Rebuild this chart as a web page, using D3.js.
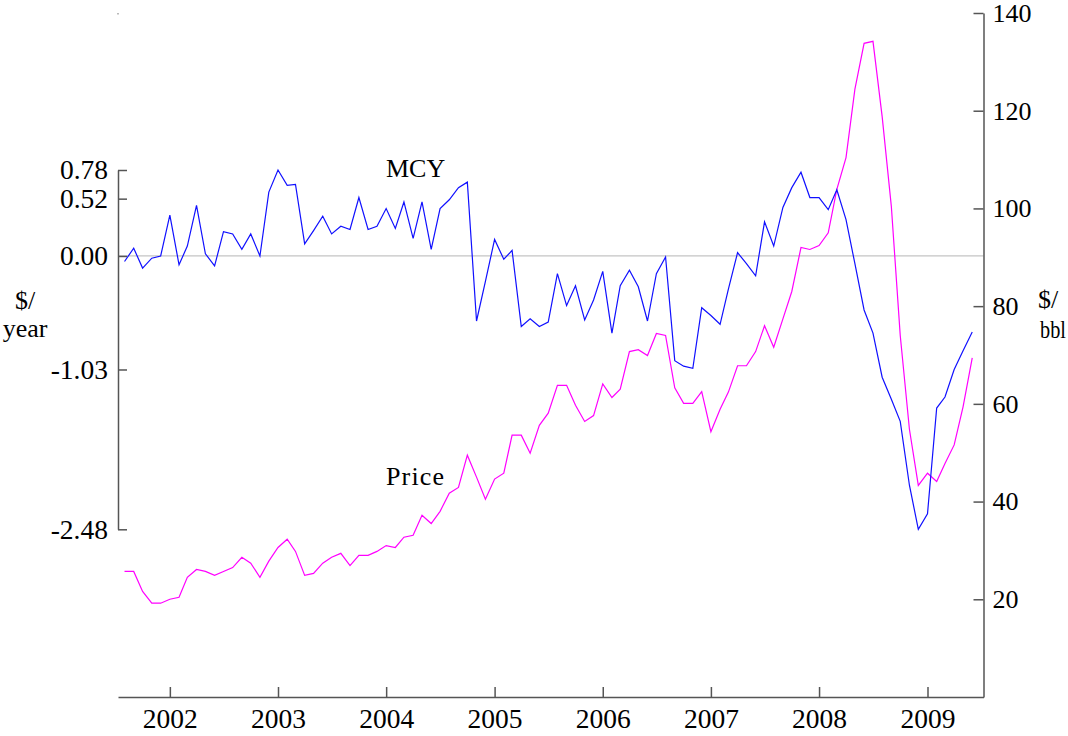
<!DOCTYPE html>
<html>
<head>
<meta charset="utf-8">
<script src="https://cdn.jsdelivr.net/npm/d3@7"></script>
<style>
  body { margin: 0; background: #fff; }
  svg text { font-family: "Liberation Serif", "Times New Roman", serif; fill: #000; }
  .axis path, .axis line { stroke: #555; stroke-width: 1.5; }
  .axis text { font-size: 27.5px; }
  .axis.right-axis text { font-size: 26px; }
  .series-label, .unit-label { font-size: 26px; }
</style>
</head>
<body>
<div id="chart"></div>
<script>
// Monthly observations, first one is August 2001
const firstMonth = new Date(2001, 7, 1);

// MCY ($/year), left axis
const mcyValues = [
  -0.05, 0.07, -0.11, -0.02, 0.00, 0.37, -0.08, 0.09, 0.46, 0.02, -0.09, 0.22, 0.20,
  0.06, 0.20, 0.00, 0.58, 0.78, 0.64, 0.65, 0.11, 0.23, 0.36, 0.20, 0.27,
  0.24, 0.53, 0.24, 0.27, 0.43, 0.25, 0.49, 0.16, 0.49, 0.06, 0.43, 0.51,
  0.62, 0.67, -0.59, -0.23, 0.15, -0.03, 0.05, -0.64, -0.57, -0.64, -0.60, -0.16,
  -0.45, -0.27, -0.58, -0.40, -0.14, -0.70, -0.27, -0.13, -0.28, -0.59, -0.16, -0.01,
  -0.95, -1.00, -1.02, -0.47, -0.54, -0.62, -0.30, 0.03, -0.07, -0.18, 0.31, 0.09,
  0.44, 0.62, 0.76, 0.53, 0.53, 0.42, 0.60, 0.33, -0.07, -0.49, -0.70, -1.10,
  -1.30, -1.50, -2.08, -2.48, -2.34, -1.38, -1.28, -1.03, -0.86, -0.69
];

// Oil price ($/bbl), right axis
const priceValues = [
  25.7, 25.7, 21.6, 19.2, 19.2, 20.0, 20.4, 24.5, 26.1, 25.7, 24.9, 25.7, 26.5,
  28.6, 27.4, 24.5, 27.8, 30.6, 32.3, 29.8, 24.9, 25.3, 27.4, 28.6, 29.4,
  26.9, 29.0, 29.0, 29.8, 31.0, 30.6, 32.7, 33.1, 37.2, 35.5, 38.0, 41.7,
  42.9, 49.5, 45.0, 40.5, 44.6, 45.8, 53.6, 53.6, 49.9, 55.6, 58.1, 63.8,
  63.8, 59.7, 56.4, 57.6, 64.1, 61.3, 63.0, 70.7, 71.1, 69.9, 74.4, 74.0,
  63.3, 60.1, 60.1, 62.5, 54.3, 58.9, 62.4, 67.8, 67.8, 70.7, 76.0, 71.6,
  77.4, 83.0, 92.0, 91.6, 92.4, 95.0, 103.9, 110.4, 124.4, 133.8, 134.2, 118.8,
  100.4, 74.0, 54.8, 43.3, 45.8, 44.1, 47.8, 51.6, 59.4, 69.4
];

// Tick labels
const leftTicks = [0.78, 0.52, 0.00, -1.03, -2.48];
const rightTicks = [20, 40, 60, 80, 100, 120, 140];
const yearTicks = [2002, 2003, 2004, 2005, 2006, 2007, 2008, 2009];

class DualAxisChart {

  constructor(_config, _data) {
    this.config = {
      parentElement: _config.parentElement,
      containerWidth: _config.containerWidth || 1068,
      containerHeight: _config.containerHeight || 736
    }
    this.data = _data;
    this.initVis();
  }

  initVis() {
    let vis = this;

    vis.svg = d3.select(vis.config.parentElement)
      .append('svg')
      .attr('width', vis.config.containerWidth)
      .attr('height', vis.config.containerHeight);

    // plot area edges (in page pixels)
    vis.left = 118;
    vis.right = 983.5;
    vis.top = 13;
    vis.bottom = 697;

    vis.xScale = d3.scaleTime()
      .domain([new Date(2001, 6, 10), new Date(2009, 6, 9)])
      .range([vis.left, vis.right]);

    // left axis only spans its extreme ticks
    vis.yLeft = d3.scaleLinear()
      .domain([-2.48, 0.78])
      .range([529.3, 170]);

    vis.yRight = d3.scaleLinear()
      .domain([0, 140])
      .range([vis.bottom, vis.top]);

    vis.xAxis = d3.axisBottom(vis.xScale)
      .tickValues(yearTicks.map(y => new Date(y, 0, 1)))
      .tickFormat(d3.timeFormat('%Y'))
      .tickSizeInner(-10)
      .tickSizeOuter(0)
      .tickPadding(11);

    vis.leftAxis = d3.axisLeft(vis.yLeft)
      .tickValues(leftTicks)
      .tickFormat(d => d.toFixed(2))
      .tickSizeInner(-9)
      .tickSizeOuter(0)
      .tickPadding(10);

    vis.rightAxis = d3.axisRight(vis.yRight)
      .tickValues(rightTicks)
      .tickSizeInner(-10)
      .tickSizeOuter(0)
      .tickPadding(9);

    // zero line of MCY
    vis.svg.append('line')
      .attr('x1', vis.left)
      .attr('x2', vis.right)
      .attr('y1', vis.yLeft(0))
      .attr('y2', vis.yLeft(0))
      .attr('stroke', '#c4c4c4')
      .attr('stroke-width', 1.2);

    vis.xAxisG = vis.svg.append('g')
      .attr('class', 'axis x-axis')
      .attr('transform', `translate(0,${vis.bottom})`);

    vis.leftAxisG = vis.svg.append('g')
      .attr('class', 'axis y-axis')
      .attr('transform', `translate(${vis.left},0)`);

    vis.rightAxisG = vis.svg.append('g')
      .attr('class', 'axis y-axis right-axis')
      .attr('transform', `translate(${vis.right},0)`);

    // small mark at top of left edge
    vis.svg.append('rect')
      .attr('x', vis.left - 0.5)
      .attr('y', vis.top)
      .attr('width', 1)
      .attr('height', 1.5)
      .attr('fill', '#777');

    // unit labels
    vis.svg.append('text').attr('class', 'unit-label')
      .attr('x', 25).attr('y', 309).attr('text-anchor', 'middle').text('$/');
    vis.svg.append('text').attr('class', 'unit-label')
      .attr('x', 25).attr('y', 337).attr('text-anchor', 'middle').text('year');
    vis.svg.append('text').attr('class', 'unit-label')
      .attr('x', 1038).attr('y', 308).attr('text-anchor', 'start').text('$/');
    // narrow "bbl" so it fits at the right edge
    vis.svg.append('text').attr('class', 'unit-label')
      .attr('transform', 'translate(1040,338) scale(0.78,1)')
      .attr('text-anchor', 'start')
      .text('bbl');

    // series labels
    vis.svg.append('text').attr('class', 'series-label')
      .attr('x', 386).attr('y', 177).text('MCY');
    vis.svg.append('text').attr('class', 'series-label')
      .attr('x', 386).attr('y', 485)
      .attr('textLength', 58).text('Price');
  }

  updateVis() {
    let vis = this;

    vis.xAxisG.call(vis.xAxis);
    vis.leftAxisG.call(vis.leftAxis);
    vis.rightAxisG.call(vis.rightAxis);

    const mcyLine = d3.line()
      .x(d => vis.xScale(d.date))
      .y(d => vis.yLeft(d.mcy));

    const priceLine = d3.line()
      .x(d => vis.xScale(d.date))
      .y(d => vis.yRight(d.price));

    vis.svg.append('path')
      .datum(vis.data)
      .attr('fill', 'none')
      .attr('stroke', '#ff00ff')
      .attr('stroke-width', 1.2)
      .attr('d', priceLine);

    vis.svg.append('path')
      .datum(vis.data)
      .attr('fill', 'none')
      .attr('stroke', '#1010ff')
      .attr('stroke-width', 1.2)
      .attr('d', mcyLine);
  }
}

const months = d3.timeMonth.range(firstMonth, d3.timeMonth.offset(firstMonth, mcyValues.length));
const data = months.map((date, i) => ({ date: date, mcy: mcyValues[i], price: priceValues[i] }));

const chart = new DualAxisChart({ parentElement: '#chart' }, data);
chart.updateVis();
</script>
</body>
</html>
